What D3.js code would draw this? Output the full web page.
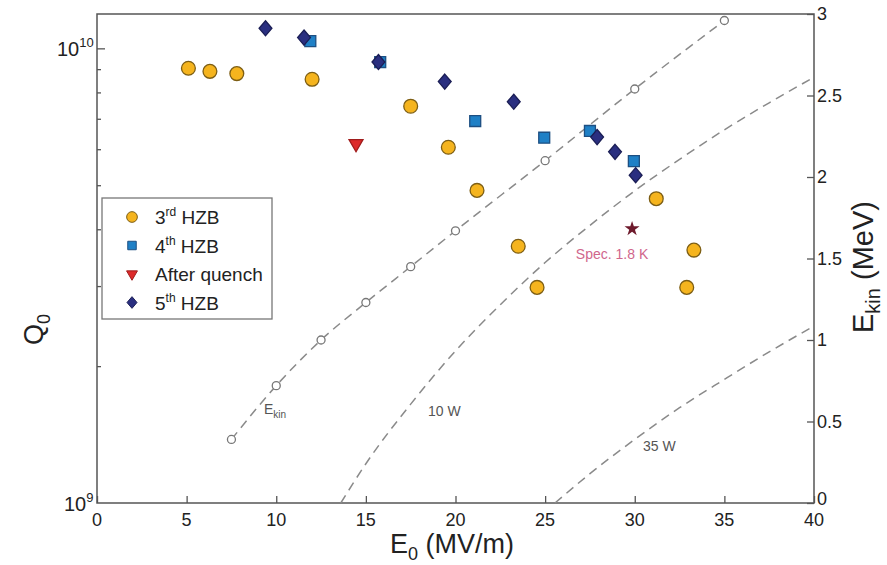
<!DOCTYPE html>
<html>
<head>
<meta charset="utf-8">
<title>Q0 vs E0</title>
<script src="https://cdn.jsdelivr.net/npm/d3@7"></script>
<style>
  body { margin: 0; background: #fff; }
  text { font-family: "Liberation Sans", Arial, sans-serif; fill: #222; }
  .frame { fill: none; stroke: #555; stroke-width: 1.5; }
  .tick line { stroke: #555; stroke-width: 1.3; }
  .dash { fill: none; stroke: #8a8a8a; stroke-width: 1.5; stroke-dasharray: 9,6; }
  .note { font-size: 14px; fill: #555; }
</style>
</head>
<body>
<svg width="887" height="565"></svg>
<script>

// data
var hzb3 = [[5.1, 9.04e9], [6.3, 8.9e9], [7.8, 8.8e9], [12.0, 8.55e9], [17.5, 7.46e9],
            [19.6, 6.06e9], [21.2, 4.87e9], [23.5, 3.67e9], [24.55, 2.98e9],
            [31.2, 4.67e9], [33.3, 3.6e9], [32.9, 2.98e9]];
var hzb4 = [[11.9, 1.037e10], [15.8, 0.933e10], [21.1, 6.92e9], [24.95, 6.36e9],
            [27.5, 6.58e9], [29.95, 5.65e9]];
var quench = [[14.45, 6.17e9]];
var hzb5 = [[9.4, 1.107e10], [11.55, 1.056e10], [15.7, 0.933e10], [19.4, 8.45e9],
            [23.25, 7.63e9], [27.9, 6.38e9], [28.9, 5.92e9], [30.05, 5.26e9]];
var spec = [[29.85, 4.01e9]];

// kinetic energy (right axis, MeV)
var ekin = [[7.5, 0.39], [10.0, 0.72], [12.5, 1.0], [15.0, 1.23], [17.5, 1.45],
            [20.0, 1.67], [25.0, 2.1], [30.0, 2.54], [35.0, 2.96]];

// constant dissipated power lines
var p10 = [[13.6, 1.0e9], [15, 1.22e9], [17.5, 1.65e9], [20, 2.16e9], [22.5, 2.73e9],
           [25, 3.38e9], [27.5, 4.08e9], [30, 4.86e9], [32.5, 5.7e9], [35, 6.62e9],
           [37.5, 7.59e9], [40, 8.64e9]];
var p35 = [[25.55, 1.0e9], [27.5, 1.16e9], [30, 1.38e9], [32.5, 1.62e9], [35, 1.87e9],
           [37.5, 2.15e9], [40, 2.45e9]];

var xTicks = [0, 5, 10, 15, 20, 25, 30, 35, 40];
var eTicks = [0, 0.5, 1, 1.5, 2, 2.5, 3];
var qMinor = [2e9, 3e9, 4e9, 5e9, 6e9, 7e9, 8e9, 9e9];

var svg = d3.select("svg");
var pL = 97, pR = 814, pT = 14, pB = 503;

var x = d3.scaleLinear().domain([0, 40]).range([pL, pR]);
var y = d3.scaleLog().domain([1e9, 1.19e10]).range([pB, pT]);
var yE = d3.scaleLinear().domain([0, 3]).range([pB, pT]);

// axes, ticks drawn inward
svg.append("g")
    .attr("transform", "translate(0," + pB + ")")
    .call(d3.axisTop(x).tickValues(xTicks).tickSize(7).tickFormat(""))
    .call(function(g) { g.select(".domain").remove(); });

svg.append("g")
    .attr("transform", "translate(" + pR + ",0)")
    .call(d3.axisLeft(yE).tickValues(eTicks).tickSize(7).tickFormat(""))
    .call(function(g) { g.select(".domain").remove(); });

svg.append("g")
    .attr("transform", "translate(" + pL + ",0)")
    .call(d3.axisRight(y).tickValues([1e10]).tickSize(8).tickFormat(""))
    .call(function(g) { g.select(".domain").remove(); });

svg.append("g")
    .attr("transform", "translate(" + pL + ",0)")
    .call(d3.axisRight(y).tickValues(qMinor).tickSize(4).tickFormat(""))
    .call(function(g) { g.select(".domain").remove(); });

svg.append("rect").attr("class", "frame")
    .attr("x", pL).attr("y", pT)
    .attr("width", pR - pL).attr("height", pB - pT);

// tick labels
svg.selectAll(".xl").data(xTicks).enter().append("text")
    .attr("x", function(d) { return x(d); })
    .attr("y", pB + 23)
    .attr("text-anchor", "middle")
    .style("font-size", "18px")
    .text(function(d) { return d; });

svg.selectAll(".el").data(eTicks).enter().append("text")
    .attr("x", pR + 3)
    .attr("y", function(d) { return yE(d) + (d == 0 ? 2 : 6); })
    .style("font-size", "18px")
    .text(function(d) { return d; });

[[1e10, "10"], [1e9, "9"]].forEach(function(t) {
  var lab = svg.append("text")
      .attr("x", t[1] == "10" ? 57 : 64)
      .attr("y", y(t[0]) + 8)
      .style("font-size", "20px");
  lab.append("tspan").text("10");
  lab.append("tspan").attr("dy", -9).style("font-size", "13px").text(t[1]);
});

// axis titles
var xt = svg.append("text")
    .attr("x", 390).attr("y", 553)
    .style("font-size", "27px");
xt.append("tspan").text("E");
xt.append("tspan").attr("dy", 7).style("font-size", "18px").text("0");
xt.append("tspan").attr("dy", -7).text(" (MV/m)");

var yt = svg.append("text")
    .attr("transform", "translate(43,345) rotate(-90)")
    .style("font-size", "27px");
yt.append("tspan").text("Q");
yt.append("tspan").attr("dy", 7).style("font-size", "18px").text("0");

var et = svg.append("text")
    .attr("transform", "translate(873,333) rotate(-90)")
    .style("font-size", "29px");
et.append("tspan").text("E");
et.append("tspan").attr("dy", 7).style("font-size", "20px").text("kin");
et.append("tspan").attr("dy", -7).text(" (MeV)");

// dashed curves
var lineQ = d3.line()
    .x(function(d) { return x(d[0]); })
    .y(function(d) { return y(d[1]); })
    .curve(d3.curveMonotoneX);
var lineE = d3.line()
    .x(function(d) { return x(d[0]); })
    .y(function(d) { return yE(d[1]); })
    .curve(d3.curveMonotoneX);

svg.append("path").datum(p10).attr("class", "dash").attr("d", lineQ);
svg.append("path").datum(p35).attr("class", "dash").attr("d", lineQ);
svg.append("path").datum(ekin).attr("class", "dash").attr("d", lineE);

svg.selectAll(".ek").data(ekin).enter().append("circle")
    .attr("cx", function(d) { return x(d[0]); })
    .attr("cy", function(d) { return yE(d[1]); })
    .attr("r", 4)
    .style("fill", "#fff").style("stroke", "#777").style("stroke-width", 1.3);

svg.append("text").attr("class", "note").attr("x", 428).attr("y", 416).text("10 W");
svg.append("text").attr("class", "note").attr("x", 643).attr("y", 451).text("35 W");
var ek = svg.append("text").attr("class", "note").attr("x", 264).attr("y", 414);
ek.append("tspan").text("E");
ek.append("tspan").attr("dy", 4).style("font-size", "10px").text("kin");

// wider diamond than d3's default
var wideDiamond = {
  draw: function(ctx, size) {
    var h = Math.sqrt(size) * 0.72, w = h * 0.85;
    ctx.moveTo(0, -h); ctx.lineTo(w, 0); ctx.lineTo(0, h); ctx.lineTo(-w, 0); ctx.closePath();
  }
};

var series = [
  { data: hzb3, type: d3.symbolCircle, size: 150, fill: "#f5b41e", stroke: "#7d5e14", rot: 0, name: "3", sup: "rd", label: "HZB" },
  { data: hzb4, type: d3.symbolSquare, size: 120, fill: "#1f80c6", stroke: "#1d4f82", rot: 0, name: "4", sup: "th", label: "HZB" },
  { data: quench, type: d3.symbolTriangle, size: 85, fill: "#dd2a2a", stroke: "#a01c1c", rot: 180, name: "After quench", sup: "", label: "" },
  { data: hzb5, type: wideDiamond, size: 110, fill: "#2a2f80", stroke: "#1b1e55", rot: 0, name: "5", sup: "th", label: "HZB" }
];

series.forEach(function(s) {
  svg.append("g").selectAll("path").data(s.data).enter().append("path")
      .attr("d", d3.symbol().type(s.type).size(s.size))
      .attr("transform", function(d) {
        return "translate(" + x(d[0]) + "," + y(d[1]) + ") rotate(" + s.rot + ")";
      })
      .style("fill", s.fill).style("stroke", s.stroke).style("stroke-width", 1.3);
});

svg.selectAll(".spec").data(spec).enter().append("path")
    .attr("d", d3.symbol().type(d3.symbolStar).size(70))
    .attr("transform", function(d) { return "translate(" + x(d[0]) + "," + y(d[1]) + ")"; })
    .style("fill", "#6e1a2c");
svg.append("text")
    .attr("x", x(spec[0][0]) - 20).attr("y", y(spec[0][1]) + 30)
    .attr("text-anchor", "middle")
    .style("font-size", "14px").style("fill", "#d0668c")
    .text("Spec. 1.8 K");

// legend
var lg = svg.append("g").attr("transform", "translate(102,198)");
lg.append("rect").attr("width", 170).attr("height", 121)
    .style("fill", "#fff").style("stroke", "#777").style("stroke-width", 1.3);
series.forEach(function(s, i) {
  var cy = 19 + i * 28.5;
  lg.append("path")
      .attr("d", d3.symbol().type(s.type).size(s.size * 0.6))
      .attr("transform", "translate(30," + cy + ") rotate(" + s.rot + ")")
      .style("fill", s.fill).style("stroke", s.stroke).style("stroke-width", 1);
  var t = lg.append("text").attr("x", 53).attr("y", cy + 7).style("font-size", "19px");
  t.append("tspan").text(s.name);
  if (s.sup) {
    t.append("tspan").attr("dy", -8).style("font-size", "12px").text(s.sup);
    t.append("tspan").attr("dy", 8).text(" " + s.label);
  }
});

</script>
</body>
</html>
